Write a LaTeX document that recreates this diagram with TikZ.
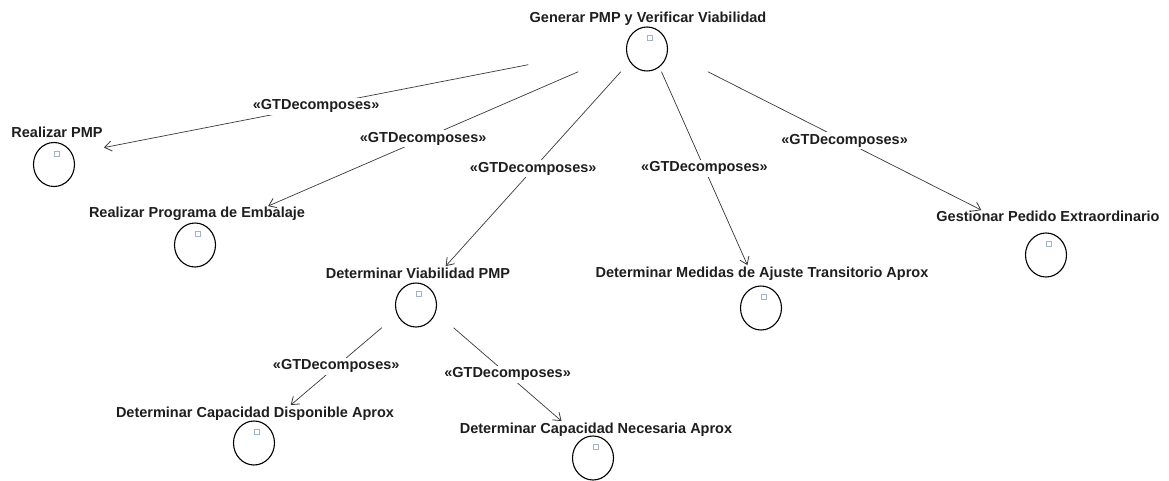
\documentclass[tikz,border=0pt]{standalone}
\usepackage{fontspec}
\setmainfont{Liberation Sans}
\usetikzlibrary{arrows.meta,fit,shapes.geometric}
\definecolor{markblue}{HTML}{9FB3CC}
\definecolor{inkgray}{HTML}{1E1E1E}
\definecolor{edgegray}{HTML}{3A3A3A}

% A goal: title text, circle below it with a small marker square,
% and an invisible box around both that the connectors attach to.
% #1 name, #2/#3 text centre x / baseline y, #4/#5 circle centre, #6 text
\newcommand\goaltask[6]{%
  \node[tasktext] (#1t) at (#2,#3) {#6};
  \node[goalcirc] (#1c) at (#4,#5) {};
  \node[markbox] (#1m) at ([xshift=2.5pt,yshift=11pt]#1c.center) {};
  \node[fit=(#1t)(#1c), inner sep=0pt] (#1) {};
}

\begin{document}
\begin{tikzpicture}[x=1pt,y=-1pt,
  tasktext/.style={font=\bfseries\fontsize{14.5}{17}\selectfont, text=inkgray,
    inner sep=1pt, anchor=base},
  goalcirc/.style={draw=black, line width=1.1pt, ellipse, inner sep=0pt,
    minimum width=41pt, minimum height=44pt},
  markbox/.style={draw=markblue, line width=0.8pt, inner sep=0pt,
    minimum size=5pt},
  decomp/.style={draw=edgegray, line width=0.7pt,
    -{Straight Barb[length=7pt,width=10pt,line width=0.8pt]}},
  rel/.style={font=\bfseries\fontsize{14.5}{17}\selectfont, text=inkgray,
    fill=white, inner sep=2pt, midway}]

\fill[white] (0,0) rectangle (1169,481);
\useasboundingbox (0,0) rectangle (1169,481);

\goaltask{root}{648}{23}{647}{49}{Generar PMP y Verificar Viabilidad}
\goaltask{rpmp}{57}{138}{54}{164.5}{Realizar PMP}
\goaltask{rprog}{197}{218}{195}{245}{Realizar Programa de Embalaje}
\goaltask{viab}{418}{278}{416}{305}{Determinar Viabilidad PMP}
\goaltask{disp}{255}{417}{254}{443}{Determinar Capacidad Disponible Aprox}
\goaltask{nec}{596}{433}{593}{458}{Determinar Capacidad Necesaria Aprox}
\goaltask{med}{762}{277}{761}{308}{Determinar Medidas de Ajuste Transitorio Aprox}
\goaltask{ped}{1048}{222}{1046}{255}{Gestionar Pedido Extraordinario}

\draw[decomp] (root) -- node[rel] {«GTDecomposes»} (rpmp);
\draw[decomp] (root) -- node[rel] {«GTDecomposes»} (rprog);
\draw[decomp] (root) -- node[rel] {«GTDecomposes»} (viab);
\draw[decomp] (root) -- node[rel] {«GTDecomposes»} (med);
\draw[decomp] (root) -- node[rel] {«GTDecomposes»} (ped);
\draw[decomp] (viab) -- node[rel] {«GTDecomposes»} (disp);
\draw[decomp] (viab) -- node[rel] {«GTDecomposes»} (nec);

\end{tikzpicture}
\end{document}
